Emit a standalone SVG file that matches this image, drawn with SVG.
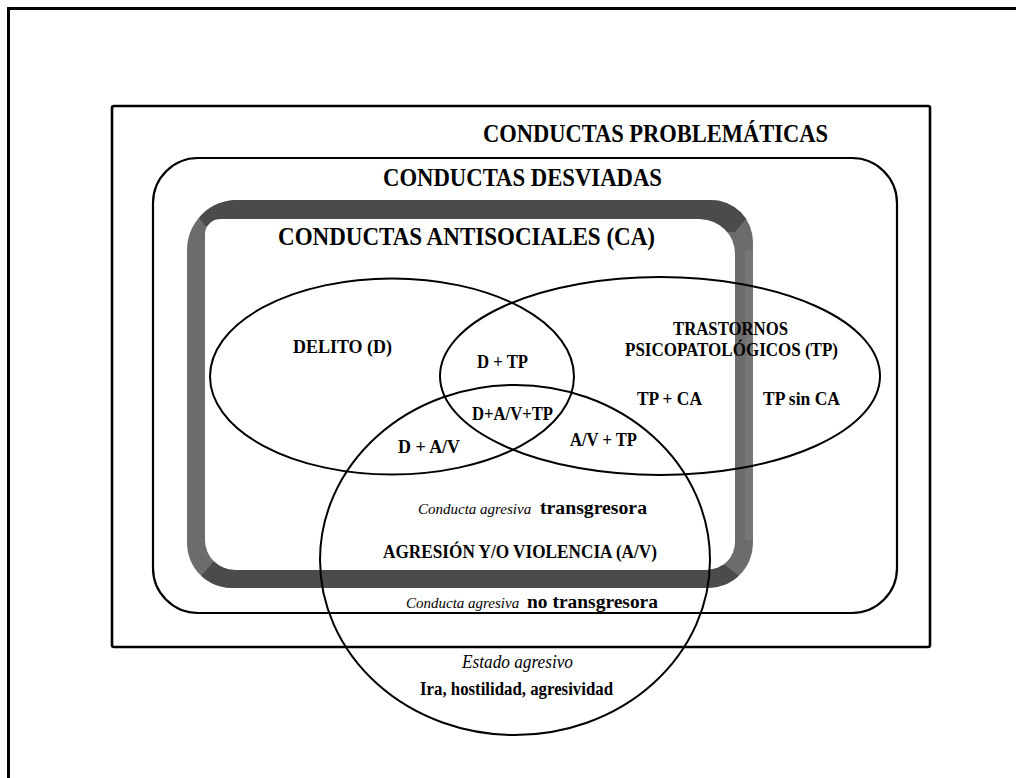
<svg xmlns="http://www.w3.org/2000/svg" width="1016" height="778" viewBox="0 0 1016 778">
<style>
.ln{fill:none;stroke:#000;stroke-width:2}
.t{font-family:"Liberation Serif","Times New Roman",serif;fill:#000}
.b{font-weight:bold}
.i{font-style:italic}
.big{font-size:25px}
.sm{font-size:18px}
.it{font-size:15px}
</style>
<defs>
<clipPath id="frameClip">
<path clip-rule="evenodd" d="M237 200 H711 A42 42 0 0 1 753 242 V543 A45 45 0 0 1 708 588 H232 A45 45 0 0 1 187 543 V250 A50 50 0 0 1 237 200 Z M220 219 H700 A35 35 0 0 1 735 254 V542 A28 28 0 0 1 707 570 H235 A30 30 0 0 1 205 540 V234 A15 15 0 0 1 220 219 Z"/>
</clipPath>
</defs>
<rect width="1016" height="778" fill="#fff"/>
<g id="frame">
<path d="M8.5 778 V8.5 H1016" fill="none" stroke="#000" stroke-width="3"/>
</g>
<g id="problematicas">
<rect x="112" y="106" width="818" height="541" rx="2" fill="none" stroke="#000" stroke-width="2.6"/>
<text class="t b big" x="483" y="142" textLength="345" lengthAdjust="spacingAndGlyphs">CONDUCTAS PROBLEMÁTICAS</text>
</g>
<g id="desviadas">
<rect x="153" y="158" width="744" height="455" rx="45" ry="45" fill="none" stroke="#000" stroke-width="2.2"/>
<text class="t b big" x="383" y="186" textLength="279" lengthAdjust="spacingAndGlyphs">CONDUCTAS DESVIADAS</text>
</g>
<g id="antisociales">
<g clip-path="url(#frameClip)">
<rect x="180" y="190" width="580" height="410" fill="#6c6c6c"/>
<polygon points="180,190 770,190 735,232 205,226" fill="#4b4b4b"/>
<polygon points="180,600 770,600 725,565 215,560" fill="#4b4b4b"/>
<polygon points="745,250 770,250 770,540 745,540" fill="#767676"/>
</g>
<text class="t b big" x="278" y="245" textLength="377" lengthAdjust="spacingAndGlyphs">CONDUCTAS ANTISOCIALES (CA)</text>
</g>
<g id="delito">
<ellipse class="ln" cx="392" cy="376.5" rx="182" ry="98"/>
<text class="t b sm" x="293" y="353" textLength="99" lengthAdjust="spacingAndGlyphs">DELITO (D)</text>
</g>
<g id="trastornos">
<ellipse class="ln" cx="660" cy="376" rx="220" ry="99"/>
<text class="t b sm" x="673" y="335" textLength="115" lengthAdjust="spacingAndGlyphs">TRASTORNOS</text>
<text class="t b sm" x="625" y="356" textLength="213" lengthAdjust="spacingAndGlyphs">PSICOPATOLÓGICOS (TP)</text>
<text class="t b sm" x="637" y="405" textLength="65" lengthAdjust="spacingAndGlyphs">TP + CA</text>
<text class="t b sm" x="763" y="405" textLength="77" lengthAdjust="spacingAndGlyphs">TP sin CA</text>
</g>
<g id="agresion">
<ellipse class="ln" cx="515" cy="560" rx="195" ry="175"/>
<text class="t i it" x="418" y="514">Conducta agresiva</text>
<text class="t b sm" x="540" y="514" textLength="107" lengthAdjust="spacingAndGlyphs">transgresora</text>
<text class="t b sm" x="383" y="558" textLength="274" lengthAdjust="spacingAndGlyphs">AGRESIÓN Y/O VIOLENCIA (A/V)</text>
<text class="t i it" x="406" y="608">Conducta agresiva</text>
<text class="t b sm" x="527" y="608" textLength="131" lengthAdjust="spacingAndGlyphs">no transgresora</text>
<text class="t i sm" x="462" y="668" textLength="111" lengthAdjust="spacingAndGlyphs">Estado agresivo</text>
<text class="t b sm" x="420" y="695" textLength="193" lengthAdjust="spacingAndGlyphs">Ira, hostilidad, agresividad</text>
</g>
<g id="intersecciones">
<text class="t b sm" x="477" y="368" textLength="51" lengthAdjust="spacingAndGlyphs">D + TP</text>
<text class="t b sm" x="472" y="420" textLength="81" lengthAdjust="spacingAndGlyphs">D+A/V+TP</text>
<text class="t b sm" x="570" y="446" textLength="67" lengthAdjust="spacingAndGlyphs">A/V + TP</text>
<text class="t b sm" x="398" y="453" textLength="62" lengthAdjust="spacingAndGlyphs">D + A/V</text>
</g>
<g id="connectors"/>
</svg>
